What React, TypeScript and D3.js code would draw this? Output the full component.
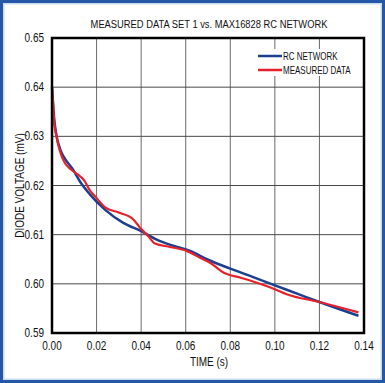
import React from "react";
import * as d3 from "d3";

const rcTime = [0, 0.0005, 0.001, 0.002, 0.004, 0.006, 0.009, 0.013, 0.017, 0.024, 0.032, 0.04, 0.047, 0.054, 0.062, 0.07, 0.08, 0.09, 0.1, 0.11, 0.12, 0.1375];
const rcVolt = [0.64, 0.6365, 0.6335, 0.6302, 0.627, 0.6253, 0.6235, 0.6205, 0.6182, 0.615, 0.6124, 0.6107, 0.609, 0.6078, 0.6067, 0.6049, 0.6031, 0.6014, 0.5997, 0.598, 0.5963, 0.5935];

const measTime = [0, 0.0005, 0.001, 0.002, 0.0049, 0.0087, 0.0117, 0.0145, 0.017, 0.0195, 0.024, 0.03, 0.0365, 0.0395, 0.0432, 0.0462, 0.053, 0.0604, 0.0664, 0.0709, 0.0769, 0.085, 0.0933, 0.1, 0.1053, 0.12, 0.1375];
const measVolt = [0.64, 0.6365, 0.6328, 0.6300, 0.6253, 0.6232, 0.6222, 0.621, 0.619, 0.6177, 0.6155, 0.6145, 0.6131, 0.6114, 0.6097, 0.6082, 0.6075, 0.6067, 0.6053, 0.6043, 0.6023, 0.6012, 0.6, 0.5989, 0.5979, 0.5963, 0.5942];

const xTicks = [0, 0.02, 0.04, 0.06, 0.08, 0.1, 0.12, 0.14];
const yTicks = [0.59, 0.6, 0.61, 0.62, 0.63, 0.64, 0.65];

const title = "MEASURED DATA SET 1 vs. MAX16828 RC NETWORK";
const xLabel = "TIME (s)";
const yLabel = "DIODE VOLTAGE (mV)";
const seriesNames = ["RC NETWORK", "MEASURED DATA"];

const W = 385, H = 383;
const L = 52, R = 364, T = 38, B = 333;
const FONT = "'Liberation Sans', Arial, sans-serif";
const SX = 0.8;

function CText(props: { x: number; y: number; anchor?: string; size?: number; rotate?: number; children: React.ReactNode }) {
  const { x, y, anchor = "start", size = 12, rotate = 0, children } = props;
  return (
    <text
      transform={`translate(${x},${y}) rotate(${rotate}) scale(${SX},1)`}
      textAnchor={anchor}
      fontFamily={FONT}
      fontSize={size}
      fill="#111"
    >
      {children}
    </text>
  );
}

export default function App() {
  const x = d3.scaleLinear().domain([0, 0.14]).range([L, R]);
  const y = d3.scaleLinear().domain([0.59, 0.65]).range([B, T]);
  const line = d3.line<[number, number]>().x(d => x(d[0])).y(d => y(d[1])).curve(d3.curveMonotoneX);
  const rc = rcTime.map((t, i) => [t, rcVolt[i]] as [number, number]);
  const meas = measTime.map((t, i) => [t, measVolt[i]] as [number, number]);
  const blue = "#1c3f8e";
  const red = "#e8202a";
  return (
    <div style={{ position: "fixed", left: 0, top: 0 }}>
      <svg width={W} height={H} style={{ display: "block" }}>
        <rect x={0} y={0} width={W} height={H} fill="#ffffff" />
        <rect x={3.5} y={3.5} width={W - 7} height={H - 7} fill="none" stroke="#c9dbef" strokeWidth={2} />
        <rect x={1.5} y={1.5} width={W - 3} height={H - 3} fill="none" stroke="#2656a6" strokeWidth={3} />
        <CText x={209} y={28} anchor="middle" size={11.7}>{title}</CText>
        {xTicks.slice(1, -1).map(t => (
          <line key={"gx" + t} x1={x(t)} x2={x(t)} y1={T} y2={B} stroke="#6a6a6a" strokeWidth={1} />
        ))}
        {yTicks.slice(1, -1).map(v => (
          <line key={"gy" + v} x1={L} x2={R} y1={y(v)} y2={y(v)} stroke="#4a4a4a" strokeWidth={1} />
        ))}
        <rect x={256} y={49} width={92} height={27} fill="#ffffff" />
        <path d={line(rc) || ""} fill="none" stroke={blue} strokeWidth={2.5} />
        <path d={line(meas) || ""} fill="none" stroke={red} strokeWidth={2.2} />
        <rect x={L} y={T} width={R - L} height={B - T} fill="none" stroke="#000" strokeWidth={2.5} />
        {yTicks.map(v => (
          <CText key={"ty" + v} x={44} y={y(v) + 4} anchor="end" size={12.5}>{v.toFixed(2)}</CText>
        ))}
        {xTicks.map(t => (
          <CText key={"tx" + t} x={x(t)} y={350} anchor="middle" size={12.5}>{t.toFixed(2)}</CText>
        ))}
        <CText x={209} y={366} anchor="middle" size={12.5}>{xLabel}</CText>
        <CText x={24} y={(T + B) / 2} anchor="middle" size={12.5} rotate={-90}>{yLabel}</CText>
        <line x1={258} x2={282} y1={56} y2={56} stroke={blue} strokeWidth={2.5} />
        <line x1={258} x2={282} y1={70} y2={70} stroke={red} strokeWidth={2.5} />
        <CText x={283} y={60} size={10}>{seriesNames[0]}</CText>
        <CText x={283} y={74} size={10}>{seriesNames[1]}</CText>
      </svg>
    </div>
  );
}
